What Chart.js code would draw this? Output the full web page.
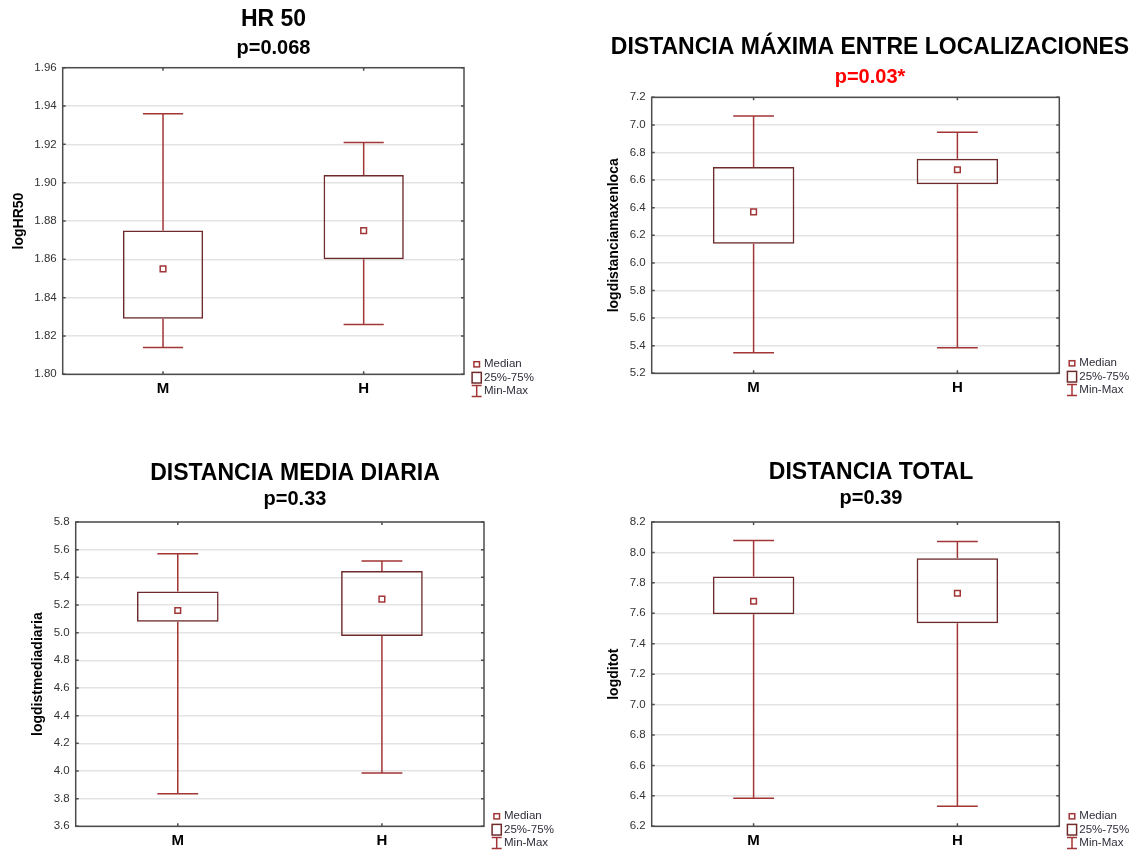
<!DOCTYPE html>
<html>
<head>
<meta charset="utf-8">
<script src="https://cdn.jsdelivr.net/npm/chart.js@4.4.1/dist/chart.umd.min.js"></script>
<style>
  html, body { margin: 0; padding: 0; background: #fff; overflow: hidden; }
  #page { position: relative; width: 1132px; height: 852px; overflow: hidden; background: #fff; }
  #page canvas { position: absolute; }
</style>
</head>
<body>
<div id="page">
  <canvas id="chartHr" width="547" height="426" style="left:0px;top:0px"></canvas>
  <canvas id="chartMax" width="580" height="426" style="left:580px;top:0px"></canvas>
  <canvas id="chartMedia" width="590" height="426" style="left:0px;top:426px"></canvas>
  <canvas id="chartTotal" width="582" height="426" style="left:580px;top:426px"></canvas>
</div>
<script>
const groups = ["M", "H"];

// HR 50
const hrMin = [1.814, 1.826];
const hrQ1 = [1.829, 1.860];
const hrMed = [1.855, 1.875];
const hrQ3 = [1.875, 1.904];
const hrMax = [1.936, 1.921];
const hrTicks = [1.80, 1.82, 1.84, 1.86, 1.88, 1.90, 1.92, 1.94, 1.96];

// DISTANCIA MAXIMA
const maxMin = [5.349, 5.385];
const maxQ1 = [6.139, 6.570];
const maxMed = [6.370, 6.675];
const maxQ3 = [6.695, 6.755];
const maxMax = [7.065, 6.947];
const maxTicks = [5.2, 5.4, 5.6, 5.8, 6.0, 6.2, 6.4, 6.6, 6.8, 7.0, 7.2];

// DISTANCIA MEDIA DIARIA
const mediaMin = [3.836, 3.985];
const mediaQ1 = [5.078, 4.975];
const mediaMed = [5.160, 5.242];
const mediaQ3 = [5.297, 5.446];
const mediaMax = [5.571, 5.518];
const mediaTicks = [3.6, 3.8, 4.0, 4.2, 4.4, 4.6, 4.8, 5.0, 5.2, 5.4, 5.6, 5.8];

// DISTANCIA TOTAL
const totMin = [6.384, 6.332];
const totQ1 = [7.594, 7.535];
const totMed = [7.679, 7.732];
const totQ3 = [7.841, 7.961];
const totMax = [8.079, 8.072];
const totTicks = [6.2, 6.4, 6.6, 6.8, 7.0, 7.2, 7.4, 7.6, 7.8, 8.0, 8.2];

Chart.defaults.font.family = "'Liberation Sans', Arial, sans-serif";

const boxColor = "#6e2b2b";
const whiskerColor = "#a23535";
const frameColor = "#4d4d4d";

// frame, inward ticks, whiskers and the little legend
const boxPlot = {
  id: "boxPlot",
  beforeDatasetsDraw(chart) {
    const { ctx, chartArea: a, scales: { x, y } } = chart;
    const ds = chart.data.datasets[0];
    ctx.save();

    // whiskers
    ctx.strokeStyle = whiskerColor;
    ctx.lineWidth = 1.5;
    chart.getDatasetMeta(0).data.forEach((bar, i) => {
      const cap = bar.width / 4;
      const yMax = y.getPixelForValue(ds.whiskerMax[i]);
      const yMin = y.getPixelForValue(ds.whiskerMin[i]);
      const yTop = y.getPixelForValue(ds.data[i][1]);
      const yBot = y.getPixelForValue(ds.data[i][0]);
      ctx.beginPath();
      ctx.moveTo(bar.x, yMax); ctx.lineTo(bar.x, yTop);
      ctx.moveTo(bar.x, yBot); ctx.lineTo(bar.x, yMin);
      ctx.moveTo(bar.x - cap, yMax); ctx.lineTo(bar.x + cap, yMax);
      ctx.moveTo(bar.x - cap, yMin); ctx.lineTo(bar.x + cap, yMin);
      ctx.stroke();
    });

    // frame + ticks
    ctx.strokeStyle = frameColor;
    ctx.lineWidth = 1.5;
    ctx.strokeRect(a.left, a.top, a.right - a.left, a.bottom - a.top);
    ctx.beginPath();
    y.ticks.forEach(t => {
      const py = y.getPixelForValue(t.value);
      ctx.moveTo(a.left, py); ctx.lineTo(a.left + 3, py);
      ctx.moveTo(a.right - 3, py); ctx.lineTo(a.right, py);
    });
    groups.forEach((g, i) => {
      const px = x.getPixelForValue(i);
      ctx.moveTo(px, a.top); ctx.lineTo(px, a.top + 3);
      ctx.moveTo(px, a.bottom); ctx.lineTo(px, a.bottom - 3);
    });
    ctx.stroke();
    ctx.restore();
  },
  afterDraw(chart) {
    const { ctx, chartArea: a } = chart;
    const cx = a.right + 12.7;
    const tx = a.right + 20;
    const rows = [a.bottom - 10, a.bottom + 3.4, a.bottom + 16.8];
    ctx.save();
    ctx.lineWidth = 1.5;
    ctx.strokeStyle = whiskerColor;
    ctx.strokeRect(cx - 2.8, rows[0] - 2.6, 5.6, 5.2);
    ctx.strokeStyle = boxColor;
    ctx.strokeRect(cx - 4.6, rows[1] - 5.3, 9.2, 10.6);
    ctx.strokeStyle = whiskerColor;
    ctx.beginPath();
    ctx.moveTo(cx, rows[2] - 5.5); ctx.lineTo(cx, rows[2] + 5.5);
    ctx.moveTo(cx - 5, rows[2] - 5.5); ctx.lineTo(cx + 5, rows[2] - 5.5);
    ctx.moveTo(cx - 5, rows[2] + 5.5); ctx.lineTo(cx + 5, rows[2] + 5.5);
    ctx.stroke();
    ctx.fillStyle = "#2e2e3a";
    ctx.font = "11.5px 'Liberation Sans', Arial, sans-serif";
    ctx.textBaseline = "middle";
    ctx.textAlign = "left";
    ["Median", "25%-75%", "Min-Max"].forEach((t, i) => ctx.fillText(t, tx, rows[i]));
    ctx.restore();
  }
};

function boxChart(id, o) {
  return new Chart(document.getElementById(id), {
    data: {
      labels: groups,
      datasets: [
        {
          type: "bar",
          data: groups.map((g, i) => [o.q1[i], o.q3[i]]),
          whiskerMin: o.min,
          whiskerMax: o.max,
          backgroundColor: "transparent",
          borderColor: boxColor,
          borderWidth: 1.5,
          borderSkipped: false,
          barPercentage: 0.4,
          categoryPercentage: 1,
        },
        {
          type: "line",
          data: o.med,
          showLine: false,
          pointStyle: "rect",
          pointRadius: 4,
          pointBorderWidth: 1.5,
          pointBorderColor: whiskerColor,
          pointBackgroundColor: "transparent",
        },
      ],
    },
    options: {
      responsive: false,
      animation: false,
      events: [],
      layout: { padding: 0 },
      plugins: {
        legend: { display: false },
        tooltip: { enabled: false },
        title: {
          display: true,
          text: o.title,
          color: "#000",
          font: { size: 23, weight: "bold" },
          padding: { top: o.titlePad, bottom: 0 },
        },
        subtitle: {
          display: true,
          text: o.pval,
          color: o.pColor,
          font: { size: 20, weight: "bold" },
          padding: { top: o.subPad[0], bottom: o.subPad[1] },
        },
      },
      scales: {
        x: {
          type: "category",
          offset: true,
          grid: { display: false, drawTicks: false },
          border: { display: false },
          ticks: { color: "#000", font: { size: 15, weight: "bold" }, padding: 6 },
          afterFit: s => { s.height = o.xHeight; },
        },
        y: {
          min: o.ticks[0],
          max: o.ticks[o.ticks.length - 1],
          afterBuildTicks: s => { s.ticks = o.ticks.map(v => ({ value: v })); },
          grid: { color: "#e3e3e3", lineWidth: 1.5, drawTicks: false },
          border: { display: false },
          ticks: {
            color: "#333",
            font: { size: 11.5 },
            padding: 6,
            callback: v => v.toFixed(o.dec),
          },
          title: {
            display: true,
            text: o.yTitle,
            color: "#000",
            font: { size: 14, weight: "bold" },
            padding: { top: o.yTitlePad, bottom: 0 },
          },
          afterFit: s => { s.width = o.yWidth; },
        },
        // empty right axis that keeps room for the legend
        side: {
          position: "right",
          grid: { display: false, drawTicks: false },
          border: { display: false },
          ticks: { display: false },
          afterFit: s => { s.width = o.padRight; },
        },
      },
    },
    plugins: [boxPlot],
  });
}

boxChart("chartHr", {
  title: "HR 50", pval: "p=0.068", pColor: "#000", yTitle: "logHR50",
  min: hrMin, q1: hrQ1, med: hrMed, q3: hrQ3, max: hrMax, ticks: hrTicks, dec: 2,
  padRight: 83, yWidth: 62.7, xHeight: 51.7, titlePad: 6.2, subPad: [2.5, 7.4], yTitlePad: 10.6,
});

boxChart("chartMax", {
  title: "DISTANCIA MÁXIMA ENTRE LOCALIZACIONES", pval: "p=0.03*", pColor: "#ff0000",
  yTitle: "logdistanciamaxenloca",
  min: maxMin, q1: maxQ1, med: maxMed, q3: maxQ3, max: maxMax, ticks: maxTicks, dec: 1,
  padRight: 100.7, yWidth: 71.7, xHeight: 52.7, titlePad: 34.2, subPad: [3.7, 7.8], yTitlePad: 25.6,
});

boxChart("chartMedia", {
  title: "DISTANCIA MEDIA DIARIA", pval: "p=0.33", pColor: "#000", yTitle: "logdistmediadiaria",
  min: mediaMin, q1: mediaQ1, med: mediaMed, q3: mediaQ3, max: mediaMax, ticks: mediaTicks, dec: 1,
  padRight: 106, yWidth: 75.7, xHeight: 25.7, titlePad: 33.5, subPad: [0, 10.9], yTitlePad: 29.6,
});

boxChart("chartTotal", {
  title: "DISTANCIA TOTAL", pval: "p=0.39", pColor: "#000", yTitle: "logditot",
  min: totMin, q1: totQ1, med: totMed, q3: totQ3, max: totMax, ticks: totTicks, dec: 1,
  padRight: 102.7, yWidth: 71.7, xHeight: 25.7, titlePad: 33.2, subPad: [0, 11.2], yTitlePad: 25.6,
});
</script>
</body>
</html>
